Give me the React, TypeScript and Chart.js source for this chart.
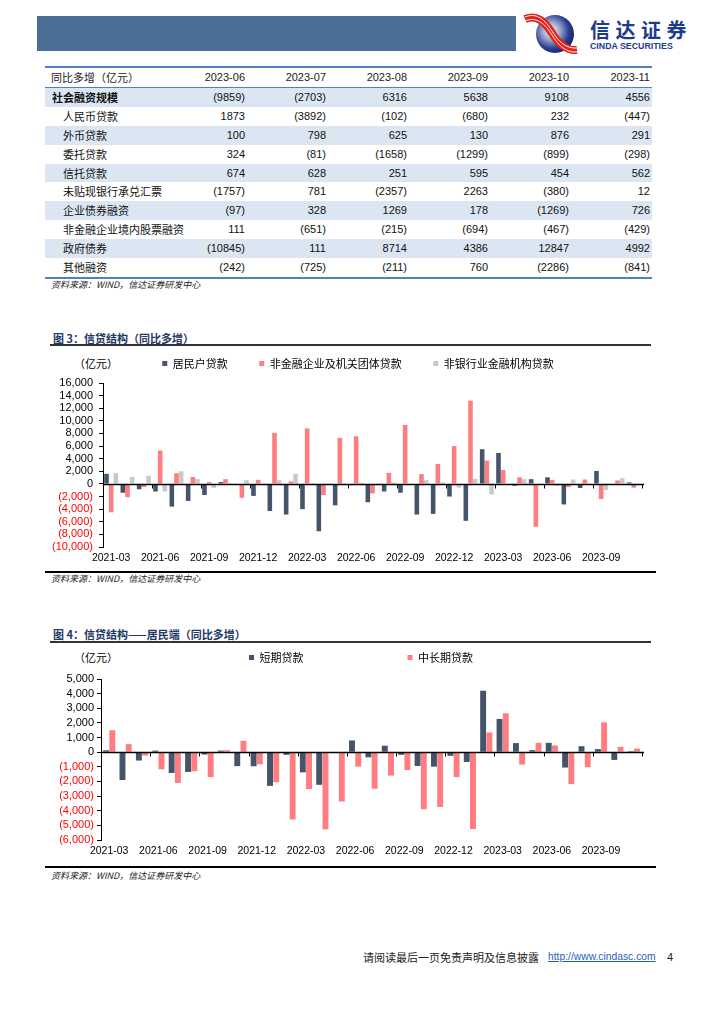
import React, { useEffect, useRef } from "react";
import { Chart, registerables } from "chart.js";

Chart.register(...registerables);

// ---------------- data ----------------
const months = [
  "2021-03", "2021-04", "2021-05", "2021-06", "2021-07", "2021-08", "2021-09", "2021-10", "2021-11", "2021-12",
  "2022-01", "2022-02", "2022-03", "2022-04", "2022-05", "2022-06", "2022-07", "2022-08", "2022-09", "2022-10",
  "2022-11", "2022-12", "2023-01", "2023-02", "2023-03", "2023-04", "2023-05", "2023-06", "2023-07", "2023-08",
  "2023-09", "2023-10", "2023-11",
];

// 图3 信贷结构（同比多增）
const householdLoans = [
  1600, -1400, -850, -1200, -3600, -2700, -1750, 300, -100, -1900,
  -4300, -4850, -4000, -7500, -3400, -200, -2900, -1200, -1400, -4850,
  -4750, -2000, -5850, 5500, 4900, -300, 750, 1050, -3250, -650,
  2050, -100, 250,
];
const corporateLoans = [
  -4500, -2100, -500, 5300, 1700, 1100, 300, 750, -2200, 650,
  8100, 400, 8800, -1750, 7300, 7550, -1500, 1750, 9350, 1550,
  3150, 6000, 13200, 3700, 2200, 1050, -6800, 650, -500, 700,
  -2400, 550, -600,
];
const nonBankLoans = [
  1700, 1100, 1300, -1200, 2000, 750, -650, 150, 600, 0,
  600, 1600, 50, 0, 0, 200, -200, 250, 0, 600,
  250, -600, 800, -1650, 0, 750, 0, -300, 700, 0,
  -950, 900, 0,
];

// 图4 信贷结构——居民端（同比多增）
const shortTermLoans = [
  130, -1900, -570, 110, -1420, -1350, -160, 110, -950, -960,
  -2300, -180, -1380, -2230, -50, 800, -350, 440, -180, -940,
  -990, -250, -670, 4200, 2270, 620, 140, 640, -1050, 410,
  210, -530, 70,
];
const longTermLoans = [
  1500, 550, -230, -1170, -2100, -1300, -1700, 140, 780, -830,
  -2050, -4600, -2520, -5270, -3370, -990, -2500, -1600, -1220, -3900,
  -3740, -1700, -5250, 1350, 2660, -850, 640, 460, -2180, -1030,
  2040, 370, 250,
];

// 表格
const tableColumns = ["2023-06", "2023-07", "2023-08", "2023-09", "2023-10", "2023-11"];
const tableRowLabels = [
  "社会融资规模", "人民币贷款", "外币贷款", "委托贷款", "信托贷款",
  "未贴现银行承兑汇票", "企业债券融资", "非金融企业境内股票融资", "政府债券", "其他融资",
];
const tsfTotal = [-9859, -2703, 6316, 5638, 9108, 4556];
const rmbLoans = [1873, -3892, -102, -680, 232, -447];
const fxLoans = [100, 798, 625, 130, 876, 291];
const entrustedLoans = [324, -81, -1658, -1299, -899, -298];
const trustLoans = [674, 628, 251, 595, 454, 562];
const bankAcceptances = [-1757, 781, -2357, 2263, -380, 12];
const corporateBonds = [-97, 328, 1269, 178, -1269, 726];
const equityFinancing = [111, -651, -215, -694, -467, -429];
const governmentBonds = [-10845, 111, 8714, 4386, 12847, 4992];
const otherFinancing = [-242, -725, -211, 760, -2286, -841];

// ---------------- styles ----------------
const NAVY = "#44546A";
const SALMON = "#FF7C80";
const GREY = "#C9C9C9";
const NUM_FONT = "'Liberation Sans', Arial, sans-serif";
const CJK_FONT = "'Noto Sans CJK SC', sans-serif";

function fmtAxis(v: number) {
  const s = Math.abs(v).toLocaleString("en-US");
  return v < 0 ? `(${s})` : s;
}
function fmtTable(v: number) {
  return v < 0 ? `(${Math.abs(v)})` : `${v}`;
}

const zeroAxisPlugin = {
  id: "zeroAxis",
  afterDatasetsDraw(chart: any) {
    const xs = chart.scales.x;
    const ys = chart.scales.y;
    const ctx = chart.ctx;
    const y0 = Math.round(ys.getPixelForValue(0)) + 0.5;
    const n = chart.data.labels.length;
    const step = xs.getPixelForValue(1) - xs.getPixelForValue(0);
    ctx.save();
    ctx.strokeStyle = "#000";
    ctx.lineWidth = 1.5;
    ctx.beginPath();
    ctx.moveTo(chart.chartArea.left, y0);
    ctx.lineTo(chart.chartArea.right + 2, y0);
    ctx.stroke();
    ctx.lineWidth = 1;
    ctx.beginPath();
    for (let i = 0; i <= n; i += 3) {
      const px = Math.round(xs.getPixelForValue(i) - step / 2) + 0.5;
      ctx.moveTo(px, y0);
      ctx.lineTo(px, y0 + 4);
    }
    ctx.stroke();
    ctx.restore();
  },
};

type DS = { label: string; data: number[]; color: string };

function BarChart(props: {
  left: number; top: number; width: number; height: number;
  datasets: DS[]; min: number; max: number; stepSize: number;
  axisWidth: number; rightSpacer: number;
  padding: { left: number; right: number; top: number; bottom: number };
  legendPadding: number; legendPads: string[]; spacer: number;
  catPct: number; barPct: number; tickPadding: number;
}) {
  const ref = useRef<HTMLCanvasElement | null>(null);
  useEffect(() => {
    if (!ref.current) return;
    const p = props;
    const chart = new Chart(ref.current, {
      type: "bar",
      data: {
        labels: months,
        datasets: p.datasets.map((d) => ({
          label: d.label,
          data: d.data,
          backgroundColor: d.color,
          borderWidth: 0,
          categoryPercentage: p.catPct,
          barPercentage: p.barPct,
        })),
      },
      options: {
        animation: false,
        responsive: false,
        devicePixelRatio: 1,
        layout: { padding: p.padding },
        plugins: {
          legend: {
            position: "top",
            labels: {
              font: { family: CJK_FONT, size: 11 },
              color: "#000",
              boxWidth: 5,
              boxHeight: 5,
              padding: p.legendPadding,
              generateLabels: (chart: any) =>
                (Chart.defaults.plugins.legend.labels as any)
                  .generateLabels(chart)
                  .map((it: any, i: number) => ({ ...it, text: it.text + (p.legendPads[i] || "") })),
            },
          },
          tooltip: { enabled: false },
        },
        scales: {
          x: {
            grid: { display: false, drawTicks: false },
            border: { display: false },
            ticks: {
              autoSkip: false,
              maxRotation: 0,
              minRotation: 0,
              padding: 5,
              color: "#000",
              font: { family: NUM_FONT, size: 10.5 },
              callback: (_v: any, i: number) => (i % 3 === 0 ? months[i] : ""),
            },
            afterFit: (s: any) => { s.height = 16; },
          },
          xTop: {
            type: "category",
            axis: "x",
            position: "top",
            grid: { display: false, drawTicks: false },
            border: { display: false },
            ticks: { display: false },
            afterFit: (s: any) => { s.height = p.spacer; },
          },
          y: {
            min: p.min,
            max: p.max,
            ticks: {
              stepSize: p.stepSize,
              autoSkip: false,
              padding: p.tickPadding,
              color: (c: any) => (c.tick && c.tick.value < 0 ? "#FF0000" : "#000"),
              font: { family: NUM_FONT, size: 11 },
              callback: (v: any) => fmtAxis(Number(v)),
            },
            grid: { drawOnChartArea: false, drawTicks: true, tickLength: 4, color: "#000" },
            border: { display: true, color: "#000", width: 1 },
            afterFit: (s: any) => { s.width = p.axisWidth; },
          },
          yRight: {
            type: "linear",
            axis: "y",
            position: "right",
            grid: { display: false, drawTicks: false },
            border: { display: false },
            ticks: { display: false },
            afterFit: (s: any) => { s.width = p.rightSpacer; },
          },
        } as any,
      },
      plugins: [zeroAxisPlugin],
    } as any);
    return () => chart.destroy();
  }, []);
  return (
    <canvas
      ref={ref}
      width={props.width}
      height={props.height}
      style={{ position: "absolute", left: props.left, top: props.top, width: props.width, height: props.height }}
    />
  );
}

function Logo() {
  return (
    <div style={{ position: "absolute", left: 522, top: 10, width: 180, height: 46 }}>
      <svg width="58" height="46" viewBox="0 0 58 46" style={{ position: "absolute", left: 0, top: 0 }}>
        <defs>
          <radialGradient id="ball" cx="0.4" cy="0.42" r="0.62">
            <stop offset="0" stopColor="#f4f6fb" />
            <stop offset="0.35" stopColor="#a3aed4" />
            <stop offset="0.75" stopColor="#2b3d8e" />
            <stop offset="1" stopColor="#17246c" />
          </radialGradient>
        </defs>
        <circle cx="33" cy="24" r="19" fill="url(#ball)" />
        <path d="M3 9 C 15 4, 23 12, 30 23 C 36 33, 44 41, 55 40" fill="none" stroke="#E2231A" strokeWidth="8" />
        <path d="M3 7 C 15 2, 23 10, 30 21 C 36 31, 44 39, 55 38" fill="none" stroke="#fff" strokeWidth="0.9" />
        <path d="M3 11 C 15 6, 23 14, 30 25 C 36 35, 44 43, 55 42" fill="none" stroke="#fff" strokeWidth="0.9" />
      </svg>
      <div style={{ position: "absolute", left: 68, top: 8, fontFamily: CJK_FONT, fontSize: 20, fontWeight: 700, color: "#1D3B8E", letterSpacing: 5.5, lineHeight: "24px", whiteSpace: "nowrap" }}>
        信达证券
      </div>
      <div style={{ position: "absolute", left: 68, top: 31, fontFamily: NUM_FONT, fontSize: 8.8, fontWeight: 700, color: "#1D3B8E", lineHeight: "10px", whiteSpace: "nowrap" }}>
        CINDA SECURITIES
      </div>
    </div>
  );
}

function DataTable() {
  const rows = [tsfTotal, rmbLoans, fxLoans, entrustedLoans, trustLoans, bankAcceptances, corporateBonds, equityFinancing, governmentBonds, otherFinancing];
  const rowH = 18.9;
  const cell = (w: number, align: "left" | "right"): React.CSSProperties => ({
    width: w, flex: "none", textAlign: align, whiteSpace: "nowrap", overflow: "visible",
  });
  return (
    <div style={{ position: "absolute", left: 45, top: 66, width: 607, borderTop: "2px solid #4F81BD", borderBottom: "2px solid #4F81BD" }}>
      <div style={{ display: "flex", height: 19, lineHeight: "19px", borderBottom: "1px solid #4F81BD", fontSize: 11, color: "#222" }}>
        <div style={{ ...cell(119, "left"), paddingLeft: 6, boxSizing: "border-box", fontFamily: CJK_FONT }}>同比多增（亿元）</div>
        {tableColumns.map((c) => (
          <div key={c} style={{ ...cell(81, "right"), fontFamily: NUM_FONT }}>{c}</div>
        ))}
      </div>
      {rows.map((r, i) => (
        <div key={i} style={{ display: "flex", height: rowH, lineHeight: `${rowH}px`, background: i % 2 === 0 ? "#DCE6F2" : "#fff", fontSize: 11, color: "#111" }}>
          <div style={{ ...cell(119, "left"), paddingLeft: i === 0 ? 7 : 18, boxSizing: "border-box", fontFamily: CJK_FONT, fontWeight: i === 0 ? 700 : 400 }}>
            {tableRowLabels[i]}
          </div>
          {r.map((v, j) => (
            <div key={j} style={{ ...cell(81, "right"), fontFamily: NUM_FONT }}>{fmtTable(v)}</div>
          ))}
        </div>
      ))}
    </div>
  );
}

const sourceStyle = (top: number): React.CSSProperties => ({
  position: "absolute", left: 51, top, fontFamily: CJK_FONT, fontSize: 9, fontStyle: "italic", color: "#222", lineHeight: "12px", whiteSpace: "nowrap",
});
const titleStyle = (top: number): React.CSSProperties => ({
  position: "absolute", left: 53, top, fontFamily: CJK_FONT, fontSize: 11, fontWeight: 700, color: "#1F3864", lineHeight: "14px", whiteSpace: "nowrap",
});
const unitStyle = (top: number): React.CSSProperties => ({
  position: "absolute", left: 74, top, fontFamily: CJK_FONT, fontSize: 11, color: "#000", lineHeight: "14px", whiteSpace: "nowrap",
});

export default function App() {
  return (
    <div style={{ position: "absolute", left: 0, top: 0, width: 724, height: 1024, background: "#fff", overflow: "hidden" }}>
      <div style={{ position: "absolute", left: 37, top: 16, width: 479, height: 35, background: "#4C6F97" }} />
      <Logo />

      <DataTable />
      <div style={sourceStyle(279)}>资料来源：WIND，信达证券研发中心</div>

      <div style={titleStyle(331)}>图 3：信贷结构（同比多增）</div>
      <div style={{ position: "absolute", left: 50, top: 344, width: 601, height: 2, background: "#333" }} />
      <div style={unitStyle(356)}>（亿元）</div>
      <BarChart
        left={0} top={350} width={700} height={220}
        datasets={[
          { label: "居民户贷款", data: householdLoans, color: NAVY },
          { label: "非金融企业及机关团体贷款", data: corporateLoans, color: SALMON },
          { label: "非银行业金融机构贷款", data: nonBankLoans, color: GREY },
        ]}
        min={-10000} max={16000} stepSize={2000}
        axisWidth={60} rightSpacer={31}
        padding={{ left: 43, right: 27, top: 4, bottom: 7 }}
        legendPadding={4}
        legendPads={["\u3000\u3000\u2002", "\u3000\u3000\u2002", ""]}
        spacer={4}
        catPct={0.86} barPct={0.98}
        tickPadding={6}
      />
      <div style={{ position: "absolute", left: 45, top: 571, width: 611, height: 1.5, background: "#000" }} />
      <div style={sourceStyle(573)}>资料来源：WIND，信达证券研发中心</div>

      <div style={titleStyle(627)}>图 4：信贷结构——居民端（同比多增）</div>
      <div style={{ position: "absolute", left: 50, top: 641, width: 601, height: 2, background: "#333" }} />
      <div style={unitStyle(650)}>（亿元）</div>
      <BarChart
        left={0} top={644} width={700} height={222}
        datasets={[
          { label: "短期贷款", data: shortTermLoans, color: NAVY },
          { label: "中长期贷款", data: longTermLoans, color: SALMON },
        ]}
        min={-6000} max={5000} stepSize={1000}
        axisWidth={60} rightSpacer={39}
        padding={{ left: 41, right: 19, top: 3, bottom: 10 }}
        legendPadding={5}
        legendPads={["\u3000\u3000\u3000\u3000\u3000\u3000\u3000\u3000\u2002\u2002", ""]}
        spacer={6}
        catPct={0.76} barPct={0.95}
        tickPadding={3}
      />
      <div style={{ position: "absolute", left: 45, top: 866, width: 611, height: 1.5, background: "#000" }} />
      <div style={sourceStyle(870)}>资料来源：WIND，信达证券研发中心</div>

      <div style={{ position: "absolute", left: 363, top: 950, fontFamily: CJK_FONT, fontSize: 11, color: "#222", lineHeight: "14px", whiteSpace: "nowrap" }}>
        请阅读最后一页免责声明及信息披露
      </div>
      <div style={{ position: "absolute", left: 548, top: 950, fontFamily: NUM_FONT, fontSize: 10.3, color: "#1F5FBF", textDecoration: "underline", lineHeight: "14px", whiteSpace: "nowrap" }}>
        http://www.cindasc.com
      </div>
      <div style={{ position: "absolute", left: 667, top: 950, fontFamily: NUM_FONT, fontSize: 11, color: "#222", lineHeight: "14px" }}>4</div>
    </div>
  );
}
